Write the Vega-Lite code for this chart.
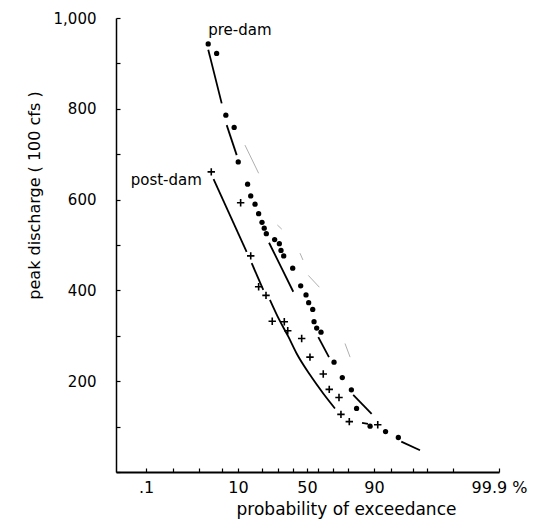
{
  "$schema": "https://vega.github.io/schema/vega-lite/v6.json",
  "width": 383,
  "height": 454,
  "autosize": "none",
  "padding": {"left": 116, "top": 18, "right": 39, "bottom": 56},
  "background": "white",
  "datasets": {
    "predam": [
      {"p": 3.2, "q": 943}, {"p": 4.3, "q": 922}, {"p": 6.2, "q": 786}, {"p": 8.8, "q": 759},
      {"p": 10.1, "q": 683}, {"p": 14.0, "q": 634}, {"p": 15.3, "q": 608}, {"p": 17.1, "q": 590},
      {"p": 18.6, "q": 569}, {"p": 20.0, "q": 550}, {"p": 21.4, "q": 537}, {"p": 22.7, "q": 525},
      {"p": 27.9, "q": 512}, {"p": 30.9, "q": 503}, {"p": 32.0, "q": 488}, {"p": 33.8, "q": 476},
      {"p": 39.8, "q": 449}, {"p": 45.5, "q": 410}, {"p": 49.3, "q": 390}, {"p": 51.5, "q": 373},
      {"p": 55.2, "q": 358}, {"p": 56.4, "q": 331}, {"p": 58.8, "q": 317}, {"p": 62.0, "q": 308},
      {"p": 70.7, "q": 242}, {"p": 76.2, "q": 208}, {"p": 81.3, "q": 181}, {"p": 83.3, "q": 140},
      {"p": 88.5, "q": 101}, {"p": 93.4, "q": 89}, {"p": 96.0, "q": 76}
    ],
    "postdam": [
      {"p": 3.6, "q": 661}, {"p": 11.1, "q": 593}, {"p": 15.3, "q": 476}, {"p": 18.6, "q": 408},
      {"p": 22.5, "q": 389}, {"p": 26.4, "q": 332}, {"p": 34.2, "q": 331}, {"p": 36.5, "q": 311},
      {"p": 46.2, "q": 294}, {"p": 52.7, "q": 253}, {"p": 63.5, "q": 216}, {"p": 67.5, "q": 182},
      {"p": 74.0, "q": 164}, {"p": 75.3, "q": 127}, {"p": 80.5, "q": 111}, {"p": 91.1, "q": 104}
    ],
    "curves": [
      {"seg": "a1", "p": 3.21, "q": 930}, {"seg": "a1", "p": 4.96, "q": 812},
      {"seg": "a2", "p": 6.47, "q": 764}, {"seg": "a2", "p": 9.59, "q": 698},
      {"seg": "a3", "p": 24.4, "q": 505}, {"seg": "a3", "p": 32.0, "q": 452}, {"seg": "a3", "p": 40.2, "q": 397},
      {"seg": "a4", "p": 60.2, "q": 297}, {"seg": "a4", "p": 67.3, "q": 253},
      {"seg": "a5", "p": 82.0, "q": 170}, {"seg": "a5", "p": 89.1, "q": 128},
      {"seg": "a6", "p": 96.4, "q": 67}, {"seg": "a6", "p": 98.5, "q": 48},
      {"seg": "b1", "p": 3.9, "q": 645}, {"seg": "b1", "p": 13.6, "q": 485},
      {"seg": "b2", "p": 15.7, "q": 460}, {"seg": "b2", "p": 20.8, "q": 401},
      {"seg": "b3", "p": 25.0, "q": 379}, {"seg": "b3", "p": 30.9, "q": 335}, {"seg": "b3", "p": 36.9, "q": 298},
      {"seg": "b3", "p": 42.6, "q": 261}, {"seg": "b3", "p": 52.7, "q": 214}, {"seg": "b3", "p": 63.5, "q": 173},
      {"seg": "b3", "p": 71.3, "q": 140},
      {"seg": "b4", "p": 85.4, "q": 108}, {"seg": "b4", "p": 87.7, "q": 106}
    ],
    "faint": [
      {"seg": "f1", "p": 12.9, "q": 720}, {"seg": "f1", "p": 18.6, "q": 658},
      {"seg": "f2", "p": 29.6, "q": 544}, {"seg": "f2", "p": 32.5, "q": 535},
      {"seg": "f3", "p": 45.0, "q": 482}, {"seg": "f3", "p": 47.1, "q": 467},
      {"seg": "f4", "p": 51.2, "q": 433}, {"seg": "f4", "p": 60.9, "q": 407},
      {"seg": "f5", "p": 78.0, "q": 283}, {"seg": "f5", "p": 80.8, "q": 253}
    ],
    "labels": [
      {"p": 10.8, "q": 963, "label": "pre-dam"},
      {"p": 0.40, "q": 632, "label": "post-dam"}
    ]
  },
  "encoding": {
    "x": {
      "field": "p",
      "type": "quantitative",
      "scale": {
        "domain": [0.01, 0.1, 0.5, 2, 5, 10, 20, 30, 40, 50, 60, 70, 80, 90, 95, 98, 99, 99.8, 99.9],
        "range": [0, 30, 57, 83, 106, 122, 146, 162, 177, 191, 202, 217, 232, 258, 275, 297, 311, 337, 383],
        "zero": false,
        "nice": false
      },
      "axis": {
        "values": [0.1, 0.5, 2, 5, 10, 20, 30, 40, 50, 60, 70, 80, 90, 95, 98, 99, 99.8, 99.9],
        "labelExpr": "datum.value == 0.1 ? '.1' : datum.value == 10 ? '10' : datum.value == 50 ? '50' : datum.value == 90 ? '90' : datum.value == 99.9 ? '99.9 %' : ''",
        "labelOverlap": false,
        "labelFlush": false,
        "labelFontSize": 16,
        "labelPadding": 11,
        "tickSize": -4,
        "tickWidth": 1.2,
        "domainWidth": 2,
        "title": "probability of exceedance",
        "titleFontSize": 17,
        "titleX": 230,
        "titleY": 29,
        "titleAlign": "center",
        "titleBaseline": "top"
      }
    },
    "y": {
      "field": "q",
      "type": "quantitative",
      "scale": {"domain": [0, 1000], "nice": false},
      "axis": {
        "values": [0, 100, 200, 300, 400, 500, 600, 700, 800, 900, 1000],
        "labelExpr": "datum.value > 0 && datum.value % 200 == 0 ? format(datum.value, ',') : ''",
        "labelOverlap": false,
        "labelFlush": false,
        "labelFontSize": 15,
        "labelPadding": 24,
        "tickSize": -4,
        "tickWidth": 1.2,
        "domainWidth": 1.5,
        "title": "peak discharge ( 100 cfs )",
        "titleFontSize": 16,
        "titleX": -82,
        "titleY": 177,
        "titleAngle": 270,
        "titleAlign": "center",
        "titleBaseline": "middle"
      }
    }
  },
  "layer": [
    {
      "data": {"name": "faint"},
      "mark": {"type": "line", "color": "#9a9a9a", "strokeWidth": 0.8},
      "encoding": {"detail": {"field": "seg"}}
    },
    {
      "data": {"name": "curves"},
      "mark": {"type": "line", "color": "black", "strokeWidth": 1.8, "interpolate": "monotone"},
      "encoding": {"detail": {"field": "seg"}}
    },
    {
      "data": {"name": "predam"},
      "mark": {"type": "point", "shape": "circle", "filled": true, "color": "black", "size": 28, "opacity": 1}
    },
    {
      "data": {"name": "postdam"},
      "mark": {"type": "point", "shape": "M-1,0L1,0M0,-1L0,1", "filled": false, "color": "black", "strokeWidth": 1.6, "size": 55, "opacity": 1}
    },
    {
      "data": {"name": "labels"},
      "mark": {"type": "text", "fontSize": 15, "font": "DejaVu Sans", "baseline": "alphabetic", "align": "center", "color": "black"},
      "encoding": {
        "text": {"field": "label"}
      }
    }
  ],
  "config": {
    "view": {"stroke": null},
    "axis": {
      "grid": false,
      "domainColor": "black",
      "tickColor": "black",
      "labelColor": "black",
      "titleColor": "black",
      "titleFontWeight": "normal",
      "labelFont": "DejaVu Sans",
      "titleFont": "DejaVu Sans"
    }
  }
}
